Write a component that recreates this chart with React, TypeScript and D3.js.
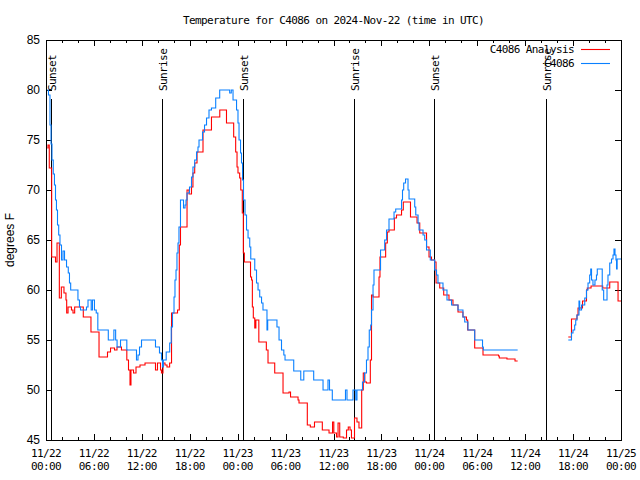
import React from "react";
import * as d3 from "d3";

const TITLE = "Temperature for C4086 on 2024-Nov-22 (time in UTC)";
const Y_LABEL = "degrees F";
const SERIES_NAMES = ["C4086 Analysis", "C4086"];
const SERIES_COLORS = ["#ff0000", "#0a80ff"];

const yTicks = [45, 50, 55, 60, 65, 70, 75, 80, 85];
const xMajorHours = [0, 6, 12, 18, 24, 30, 36, 42, 48, 54, 60, 66, 72];
const xTickDates = ["11/22", "11/22", "11/22", "11/22", "11/23", "11/23", "11/23", "11/23", "11/24", "11/24", "11/24", "11/24", "11/25"];
const xTickTimes = ["00:00", "06:00", "12:00", "18:00", "00:00", "06:00", "12:00", "18:00", "00:00", "06:00", "12:00", "18:00", "00:00"];

// sun events, hours since 11/22 00:00 UTC
const sunHours = [0.68, 14.58, 24.61, 38.6, 48.62, 62.6];
const sunNames = ["Sunset", "Sunrise", "Sunset", "Sunrise", "Sunset", "Sunrise"];

// C4086 Analysis (red): hours since 11/22 00:00 UTC, degrees F (null = gap)
const anaHours = [
  0.16, 0.25, 0.41, 0.71, 1.19, 1.38, 1.67, 1.92, 2.25, 2.5, 2.59, 2.76, 3.19, 3.38, 3.59, 4.67, 5.63, 6.64, 7.7, 8.08,
  8.58, 8.89, 9.45, 10.12, 10.33, 10.52, 10.64, 10.96, 11.27, 11.77, 12.4, 13.71, 13.96, 14.34, 14.46, 14.65, 14.9, 15.15, 15.48, 15.72,
  16.47, 16.69, 16.84, 17.66, 17.91, 18.22, 18.4, 18.62, 18.91, 19.66, 20.72, 21.76, 22.6, 23.5, 23.75, 23.92, 24.04, 24.25, 24.39, 24.58,
  24.71, 24.84, 25.61, 25.74, 25.84, 25.96, 26.14, 26.28, 26.65, 27.59, 27.8, 28.64, 29.68, 30.43, 30.62, 31.56, 31.68, 32.72, 33.1, 33.62,
  34.6, 35.44, 35.88, 36.04, 36.38, 36.57, 36.78, 37.23, 37.63, 37.85, 38.07, 38.25, 38.63, 38.94, 39.19, 39.53, 39.73, 39.92, 40.13, 40.61,
  40.76, 40.95, 41.7, 41.82, 42.53, 42.74, 42.95, 43.62, 43.89, 44.52, 44.74, 45.64, 46.46, 46.8, 47.65, 47.96, 48.27, 48.67, 48.84, 49.3,
  49.8, 50.46, 50.96, 51.59, 52.21, 52.65, 52.8, 53.68, 54.72, 56.66, 56.76, 57.72, 58.73, 59.06, 62.0,
  65.4, 65.8, 66.49, 66.62, 67.18, 67.68, 67.78, 68.25, 69.71, 70.59, 71.63, 72.0,
];
const anaTemps = [
  74.2, 74.5, 72.2, 63.3, 62.8, 64.7, 59.2, 60.3, 59.7, 59.0, 57.7, 58.3, 58.0, 57.7, 58.3, 57.3, 55.8, 53.3, 53.8, 54.2,
  54.0, 54.3, 54.0, 53.0, 52.0, 50.5, 52.0, 51.7, 52.3, 52.5, 52.7, 52.0, 52.7, 52.0, 51.7, 52.7, 52.5, 52.3, 52.7, 57.7,
  58.0, 64.5, 66.3, 70.0, 69.6, 70.3, 71.7, 72.7, 73.8, 76.0, 77.3, 78.0, 76.7, 75.3, 73.8, 72.3, 71.7, 71.2, 70.0, 67.7,
  63.7, 62.8, 61.3, 61.0, 58.3, 57.2, 56.2, 57.0, 54.8, 54.0, 52.7, 51.7, 49.7, 49.8, 49.3, 49.0, 48.7, 46.5, 46.3, 46.8,
  46.0, 45.7, 46.8, 45.7, 45.3, 46.7, 45.3, 45.2, 46.0, 46.3, 46.0, 45.2, 47.2, 46.8, 46.2, 50.0, 51.7, 50.8, 50.7, 53.0,
  59.5, 59.3, 61.3, 63.3, 64.7, 65.8, 66.0, 67.2, 67.5, 68.0, 68.8, 67.3, 66.7, 65.7, 64.3, 63.3, 63.0, 62.8, 60.7, 60.2,
  59.5, 59.0, 58.5, 57.8, 57.3, 57.0, 56.0, 54.2, 53.5, 53.4, 53.2, 53.1, 52.9, 52.9, null,
  55.3, 57.1, 57.5, 58.2, 58.9, 60.0, 60.2, 60.4, 60.2, 60.8, 58.9, 58.9,
];

// C4086 observed (blue)
const obsHours = [
  0.16, 0.31, 0.5, 0.63, 0.75, 0.91, 1.06, 1.19, 1.31, 1.44, 1.59, 1.75, 1.94, 2.13, 2.32, 2.57, 2.79, 2.94, 3.09, 4.0,
  4.19, 4.32, 5.07, 5.26, 5.66, 5.82, 6.07, 6.29, 6.49, 7.8, 8.5, 8.72, 8.9, 9.33, 10.12, 11.33, 11.52, 11.71, 11.96, 13.71,
  14.21, 14.46, 14.59, 14.69, 15.05, 15.49, 15.68, 15.84, 16.03, 16.15, 16.28, 16.4, 16.53, 16.65, 16.84, 17.22, 17.41, 17.53, 17.66, 17.97,
  18.22, 18.4, 18.62, 18.85, 19.03, 19.16, 19.6, 19.85, 20.1, 20.41, 20.72, 21.25, 21.75, 23.0, 23.2, 23.42, 23.86, 24.04, 24.17, 24.36,
  24.48, 24.61, 24.73, 24.92, 25.11, 25.3, 25.51, 25.64, 26.14, 26.36, 26.55, 26.76, 26.99, 27.17, 27.67, 27.76, 28.92, 29.18, 29.49, 29.78,
  29.93, 31.02, 31.9, 32.28, 33.52, 34.69, 35.31, 35.5, 35.85, 37.5, 37.69, 38.44, 38.79, 38.94, 39.63, 39.88, 40.13, 40.32, 40.48, 40.66,
  40.76, 40.95, 41.07, 41.89, 42.41, 42.64, 42.95, 43.58, 43.79, 44.52, 44.64, 44.79, 45.02, 45.33, 45.46, 46.17, 46.3, 46.59, 46.71, 47.21,
  47.42, 47.65, 48.12, 48.67, 48.9, 49.08, 49.71, 50.21, 50.78, 51.59, 52.21, 52.43, 52.84, 53.68, 54.66, 54.76, 59.06, 62.0,
  65.4, 65.8, 65.99, 66.2, 66.33, 66.49, 66.74, 66.83, 67.06, 67.46, 67.68, 67.87, 68.08, 68.21, 68.31, 68.49, 68.74, 68.93, 69.03, 69.65,
  69.83, 70.25, 70.37, 70.59, 70.81, 71.0, 71.12, 71.25, 71.37, 71.44, 71.52, 72.0,
];
const obsTemps = [
  80.0, 79.5, 76.5, 74.6, 73.0, 71.6, 70.5, 69.0, 68.0, 66.5, 65.5, 64.5, 63.0, 63.9, 63.0, 62.3, 61.7, 60.7, 60.0, 59.0,
  58.3, 58.0, 58.3, 59.0, 58.0, 59.0, 58.0, 57.7, 56.0, 55.0, 56.0, 55.0, 54.3, 55.0, 54.0, 53.0, 53.5, 54.3, 55.0, 54.3,
  53.7, 53.0, 52.3, 53.0, 53.8, 54.7, 56.3, 57.7, 59.3, 61.0, 62.0, 63.7, 64.7, 66.3, 69.0, 68.2, 68.5, 69.0, 69.7, 70.3,
  71.3, 72.3, 73.0, 73.8, 74.3, 75.0, 75.8, 76.5, 77.2, 78.0, 78.2, 79.2, 80.0, 79.7, 80.0, 79.0, 78.0, 76.7, 75.0, 73.7,
  72.7, 71.0, 69.0, 67.5, 66.0, 65.2, 64.3, 63.1, 62.0, 60.7, 60.0, 59.3, 58.7, 58.0, 56.0, 57.0, 56.3, 55.0, 54.0, 53.5,
  53.0, 51.9, 51.0, 51.9, 51.0, 50.0, 51.0, 50.0, 49.0, 50.0, 49.0, 50.0, 49.0, 50.0, 50.8, 51.7, 53.0, 54.3, 56.0, 56.5,
  58.0, 60.5, 62.0, 64.0, 65.0, 66.0, 67.1, 67.8, 68.1, 69.0, 70.0, 70.7, 71.1, 70.0, 69.1, 68.3, 67.5, 66.7, 66.0, 65.5,
  65.0, 64.0, 63.0, 62.0, 61.5, 60.7, 60.0, 59.0, 58.5, 58.0, 57.3, 56.8, 56.0, 55.0, 54.3, 54.0, 54.0, null,
  55.0, 55.7, 56.0, 56.5, 57.0, 57.5, 58.9, 58.0, 58.5, 59.2, 60.0, 60.7, 61.5, 62.1, 61.0, 60.5, 61.0, 61.5, 62.1, 60.0,
  59.0, 60.5, 61.5, 62.7, 63.1, 63.5, 64.1, 63.5, 63.0, 62.1, 63.1, 63.1,
];

const W = 640;
const H = 480;
const L = 46;
const R = 621;
const T = 40;
const B = 440;
const MONO = "'DejaVu Sans Mono', monospace";
const SANS = "'Liberation Sans', Arial, sans-serif";

export default function App() {
  const x = d3.scaleLinear().domain([0, 72]).range([L, R]);
  const y = d3.scaleLinear().domain([45, 85]).range([B, T]);

  const mk = (hs: number[], ts: (number | null)[]) => hs.map((h, i) => ({ h, t: ts[i] }));
  const line = d3
    .line<{ h: number; t: number | null }>()
    .defined((d) => d.t != null)
    .x((d) => x(d.h))
    .y((d) => y(d.t as number))
    .curve(d3.curveStepAfter);

  const series = [mk(anaHours, anaTemps), mk(obsHours, obsTemps)];
  const minorHours = d3.range(0, 73, 2);

  return (
    <svg width={W} height={H} style={{ display: "block", position: "absolute", left: 0, top: 0, background: "#fff" }}>
      <rect x={0} y={0} width={W} height={H} fill="#fff" />
      <text x={(L + R) / 2} y={24} textAnchor="middle" fontFamily={MONO} fontSize={11} letterSpacing={-0.6}>
        {TITLE}
      </text>
      {/* y axis ticks & labels */}
      {yTicks.map((v) => (
        <g key={"y" + v}>
          <line x1={L} x2={L + 6} y1={Math.round(y(v)) + 0.5} y2={Math.round(y(v)) + 0.5} stroke="#000" />
          <line x1={R - 6} x2={R} y1={Math.round(y(v)) + 0.5} y2={Math.round(y(v)) + 0.5} stroke="#000" />
          <text x={40} y={y(v) + 4} textAnchor="end" fontFamily={SANS} fontSize={12}>
            {v}
          </text>
        </g>
      ))}
      <text
        transform={`translate(14,${(T + B) / 2}) rotate(-90)`}
        textAnchor="middle"
        fontFamily={SANS}
        fontSize={12}
      >
        {Y_LABEL}
      </text>
      {/* x axis ticks */}
      {minorHours.map((h) => {
        const len = h % 6 === 0 ? 6 : 3;
        const px = Math.round(x(h)) + 0.5;
        return (
          <g key={"xm" + h}>
            <line x1={px} x2={px} y1={B} y2={B - len} stroke="#000" />
            <line x1={px} x2={px} y1={T} y2={T + len} stroke="#000" />
          </g>
        );
      })}
      {xMajorHours.map((h, i) => (
        <g key={"xl" + h} fontFamily={MONO} fontSize={11} letterSpacing={-0.6} textAnchor="middle">
          <text x={x(h)} y={457}>{xTickDates[i]}</text>
          <text x={x(h)} y={470}>{xTickTimes[i]}</text>
        </g>
      ))}
      {/* sun events */}
      {sunHours.map((h, i) => {
        const px = Math.round(x(h)) + 0.5;
        return (
          <g key={"s" + i}>
            <line x1={px} x2={px} y1={y(79.1)} y2={B} stroke="#000" />
            <text
              transform={`translate(${px + 4},${y(80) + 1}) rotate(-90)`}
              fontFamily={MONO}
              fontSize={11}
              letterSpacing={-0.6}
            >
              {sunNames[i]}
            </text>
          </g>
        );
      })}
      {/* series */}
      {series.map((s, i) => (
        <path key={"p" + i} d={line(s) || ""} fill="none" stroke={SERIES_COLORS[i]} strokeWidth={1.1} />
      ))}
      {/* frame */}
      <rect x={L + 0.5} y={T + 0.5} width={R - L} height={B - T} fill="none" stroke="#000" />
      {/* legend */}
      {SERIES_NAMES.map((n, i) => (
        <g key={"lg" + i}>
          <text x={574} y={53 + i * 14} textAnchor="end" fontFamily={MONO} fontSize={11} letterSpacing={-0.6}>
            {n}
          </text>
          <line x1={581} x2={610} y1={49.5 + i * 14} y2={49.5 + i * 14} stroke={SERIES_COLORS[i]} strokeWidth={1.1} />
        </g>
      ))}
    </svg>
  );
}
